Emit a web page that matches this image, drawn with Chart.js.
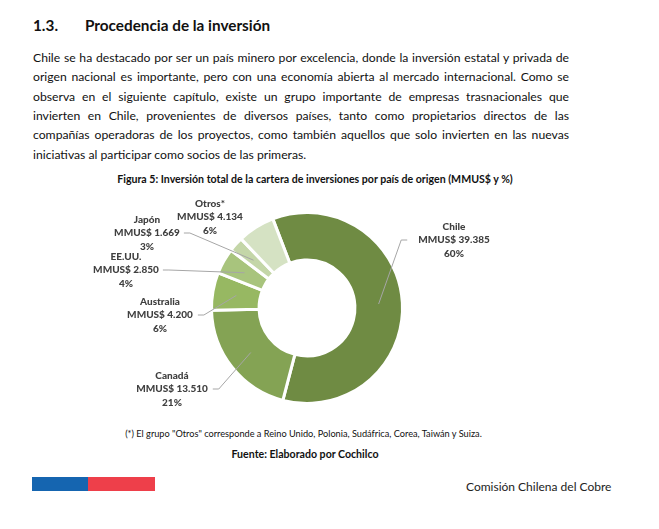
<!DOCTYPE html>
<html><head><meta charset="utf-8">
<script src="https://cdn.jsdelivr.net/npm/chart.js@4"></script>
<style>
html,body{margin:0;padding:0;background:#fff;}
body{width:659px;height:529px;position:relative;overflow:hidden;font-family:Lato,"Open Sans",sans-serif;color:#111;}
.abs{position:absolute;white-space:nowrap;}
.h{font-weight:bold;font-size:15.3px;top:16px;}
.pl{left:33px;width:536px;font-size:12.2px;white-space:nowrap;text-align:justify;text-align-last:justify;}
.pl.last{text-align-last:left;}
.cen{text-align:center;}
#chartBox{position:absolute;left:0;top:190px;width:659px;height:235px;}
</style></head>
<body>
<div class="abs h" style="left:33px;">1.3.</div>
<div class="abs h" style="left:85px;">Procedencia de la inversión</div>
<div id="para"></div>
<div class="abs cen" style="left:0;width:630px;top:173px;font-weight:bold;font-size:10.6px;">Figura 5: Inversión total de la cartera de inversiones por país de origen (MMUS$ y %)</div>
<div id="chartBox"><canvas id="c"></canvas></div>
<div class="abs cen" style="left:0;width:607px;top:428px;font-size:9.2px;">(*) El grupo "Otros" corresponde a Reino Unido, Polonia, Sudáfrica, Corea, Taiwán y Suiza.</div>
<div class="abs cen" style="left:0;width:610px;top:448px;font-weight:bold;font-size:10.6px;">Fuente: Elaborado por Cochilco</div>
<div class="abs" style="left:32px;top:477px;width:56px;height:14px;background:#1565b0;"></div>
<div class="abs" style="left:88px;top:477px;width:67px;height:14px;background:#ee3f4a;"></div>
<div class="abs" style="left:466px;top:479px;font-size:12px;color:#222;">Comisión Chilena del Cobre</div>
<script>
// ---- data ----
const categories = ['Chile', 'Canadá', 'Australia', 'EE.UU.', 'Japón', 'Otros*'];
const values = [39385, 13510, 4200, 2850, 1669, 4134];
const colors = ['#6f8b43', '#84a354', '#97b862', '#a8c47d', '#c4d6a8', '#d5e2c3'];
const paragraphLines = [
  'Chile se ha destacado por ser un país minero por excelencia, donde la inversión estatal y privada de',
  'origen nacional es importante, pero con una economía abierta al mercado internacional. Como se',
  'observa en el siguiente capítulo, existe un grupo importante de empresas trasnacionales que',
  'invierten en Chile, provenientes de diversos países, tanto como propietarios directos de las',
  'compañías operadoras de los proyectos, como también aquellos que solo invierten en las nuevas',
  'iniciativas al participar como socios de las primeras.'
];
// label placement (offset of label block centre from chart centre, and leader side)
const labelLayout = [
  {dx: 147, dy: -68, side: 'right', gap: 11},
  {dx: -135, dy: 81, side: 'left', gap: 5},
  {dx: -147, dy: 7, side: 'left', gap: 5},
  {dx: -181, dy: -38, side: 'left', gap: 4},
  {dx: -160, dy: -75, side: 'left', gap: 4},
  {dx: -97, dy: -91, side: 'none', gap: 0}
];

// paragraph
const para = document.getElementById('para');
paragraphLines.forEach((t, i) => {
  const d = document.createElement('div');
  d.className = 'abs pl' + (i === paragraphLines.length - 1 ? ' last' : '');
  d.style.top = (50 + i * 19.3) + 'px';
  d.textContent = t;
  para.appendChild(d);
});

function fmt(v) { return String(v).replace(/\B(?=(\d{3})+(?!\d))/g, '.'); }
const total = values.reduce((a, b) => a + b, 0);

const labelPlugin = {
  id: 'extLabels',
  afterDatasetsDraw(chart) {
    const ctx = chart.ctx;
    const meta = chart.getDatasetMeta(0);
    ctx.save();
    ctx.font = '900 10px Lato, sans-serif';
    ctx.textAlign = 'center';
    ctx.textBaseline = 'middle';
    meta.data.forEach((arc, i) => {
      const p = arc.getProps(['x', 'y', 'startAngle', 'endAngle', 'innerRadius', 'outerRadius'], true);
      const L = labelLayout[i];
      const lines = [categories[i], 'MMUS$ ' + fmt(values[i]), Math.round(values[i] / total * 100) + '%'];
      const lx = p.x + L.dx, ly = p.y + L.dy;
      const lh = 13.5;
      ctx.fillStyle = '#404040';
      lines.forEach((t, k) => ctx.fillText(t, lx, ly + (k - 1) * lh));
      if (L.side !== 'none') {
        const w = Math.max(...lines.map(t => ctx.measureText(t).width));
        const mid = (p.startAngle + p.endAngle) / 2;
        const r = (p.innerRadius + p.outerRadius) / 2;
        const ax = p.x + Math.cos(mid) * r, ay = p.y + Math.sin(mid) * r;
        const sgn = L.side === 'left' ? 1 : -1;
        const sx = lx + sgn * (w / 2 + L.gap);
        const ex = sx + sgn * 6;
        ctx.strokeStyle = '#a6a6a6';
        ctx.lineWidth = 1;
        ctx.beginPath();
        ctx.moveTo(sx, ly);
        ctx.lineTo(ex, ly);
        ctx.lineTo(ax, ay);
        ctx.stroke();
      }
    });
    ctx.restore();
  }
};

new Chart(document.getElementById('c'), {
  type: 'doughnut',
  data: {
    labels: categories,
    datasets: [{
      data: values,
      backgroundColor: colors,
      borderColor: '#ffffff',
      borderWidth: 3,
      hoverOffset: 0
    }]
  },
  options: {
    responsive: true,
    maintainAspectRatio: false,
    animation: false,
    rotation: -21,
    radius: 95.5,
    cutout: 58,
    layout: {padding: {left: 0, right: 45, top: 1, bottom: 0}},
    plugins: {legend: {display: false}, tooltip: {enabled: false}}
  },
  plugins: [labelPlugin]
});
</script>
</body></html>
